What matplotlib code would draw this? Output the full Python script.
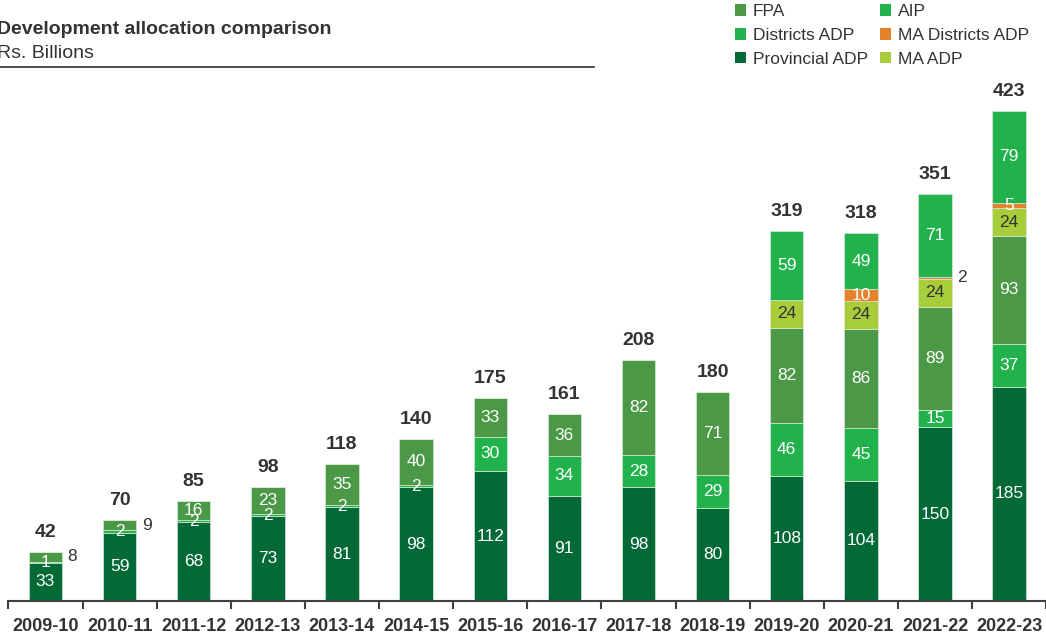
import numpy as np
import matplotlib.pyplot as plt
from matplotlib.patches import Patch

plt.rcParams['font.family'] = ['Liberation Sans', 'DejaVu Sans']

years = ['2009-10', '2010-11', '2011-12', '2012-13', '2013-14', '2014-15', '2015-16',
         '2016-17', '2017-18', '2018-19', '2019-20', '2020-21', '2021-22', '2022-23']
provincial_adp = [33, 59, 68, 73, 81, 98, 112, 91, 98, 80, 108, 104, 150, 185]
districts_adp = [1, 2, 2, 2, 2, 2, 30, 34, 28, 29, 46, 45, 15, 37]
fpa = [8, 9, 16, 23, 35, 40, 33, 36, 82, 71, 82, 86, 89, 93]
ma_adp = [0, 0, 0, 0, 0, 0, 0, 0, 0, 0, 24, 24, 24, 24]
ma_districts_adp = [0, 0, 0, 0, 0, 0, 0, 0, 0, 0, 0, 10, 2, 5]
aip = [0, 0, 0, 0, 0, 0, 0, 0, 0, 0, 59, 49, 71, 79]
totals = [42, 70, 85, 98, 118, 140, 175, 161, 208, 180, 319, 318, 351, 423]

# (name, values, colour, label colour), bottom to top
series = [
    ('Provincial ADP', provincial_adp, '#036937', 'white'),
    ('Districts ADP', districts_adp, '#22b24c', 'white'),
    ('FPA', fpa, '#4b9946', 'white'),
    ('MA ADP', ma_adp, '#a7ce3a', '#333333'),
    ('MA Districts ADP', ma_districts_adp, '#e5832a', 'white'),
    ('AIP', aip, '#21b24c', 'white'),
]
# labels drawn beside the bar instead of inside
outside = {('FPA', 0), ('FPA', 1), ('MA Districts ADP', 12)}

dark = '#333333'
fig = plt.figure(figsize=(10.46, 6.36), dpi=100)
ax = fig.add_axes([8.4 / 1046, 35 / 636, 1037.8 / 1046, 579.2 / 636])

x = np.arange(len(years))
bottom = np.zeros(len(years))
for name, vals, color, tcol in series:
    vals = np.array(vals, dtype=float)
    ax.bar(x, vals, 0.45, bottom=bottom, color=color, edgecolor='#d8e8d8', linewidth=0.5)
    for i, v in enumerate(vals):
        if v <= 0:
            continue
        yc = bottom[i] + v / 2
        if (name, i) in outside:
            ax.text(x[i] + 0.3, yc, f'{v:.0f}', ha='left', va='center', fontsize=12.5, color=dark)
        else:
            ax.text(x[i], yc, f'{v:.0f}', ha='center', va='center', fontsize=12.5, color=tcol)
    bottom += vals

for i, t in enumerate(totals):
    ax.annotate(str(t), (x[i], bottom[i]), xytext=(0, 8), textcoords='offset points',
                ha='center', va='bottom', fontsize=14, fontweight='bold', color=dark)

ax.set_xlim(-0.5, 13.3)
ax.set_ylim(0, 500)
ax.set_yticks([])
for s in ['left', 'right', 'top']:
    ax.spines[s].set_visible(False)
ax.spines['bottom'].set_color('#404040')
ax.spines['bottom'].set_linewidth(1.5)
ax.set_xticks(x)
ax.set_xticklabels(years, fontsize=13, fontweight='bold', color=dark)
ax.set_xticks(np.arange(-0.5, 14, 1), minor=True)
ax.tick_params(axis='x', which='major', length=0, pad=12)
ax.tick_params(axis='x', which='minor', length=6, width=1.5, color='#404040')

fig.text(-3 / 1046, 1 - 29 / 636, 'Development allocation comparison', fontsize=14,
         fontweight='bold', color=dark, va='center')
fig.text(-3 / 1046, 1 - 53 / 636, 'Rs. Billions', fontsize=14, color=dark, va='center')
fig.add_artist(plt.Line2D([0, 594 / 1046], [1 - 67 / 636] * 2, color='#404040', linewidth=1.3))

order = ['FPA', 'Districts ADP', 'Provincial ADP', 'AIP', 'MA Districts ADP', 'MA ADP']
colors = {n: c for n, _, c, _ in series}
handles = [Patch(facecolor=colors[n], label=n) for n in order]
fig.legend(handles=handles, ncol=2, loc='upper left', bbox_to_anchor=(719 / 1046, 1.018),
           frameon=False, fontsize=12.5, handlelength=0.65, handleheight=0.65,
           handletextpad=0.4, columnspacing=0.7, labelspacing=0.5, labelcolor=dark)

fig.savefig('out.png', dpi=100)
